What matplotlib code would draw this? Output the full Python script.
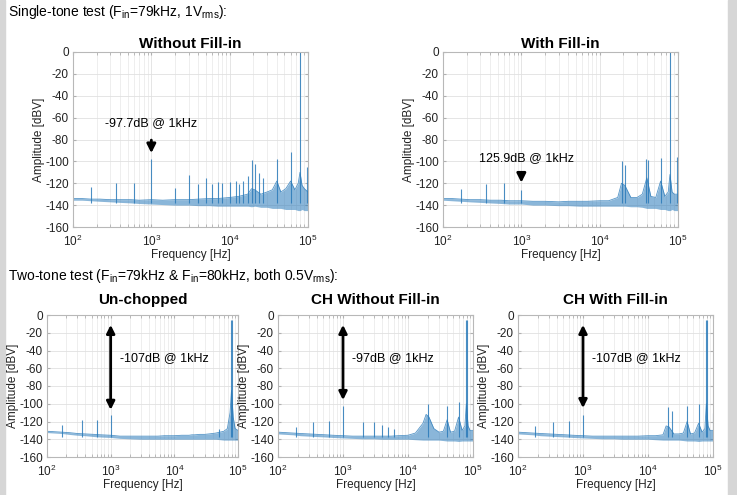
import matplotlib
matplotlib.use('Agg')
import matplotlib.pyplot as plt
from matplotlib.patches import Rectangle

plt.rcParams['font.family'] = ['Liberation Sans', 'DejaVu Sans']
plt.rcParams['mathtext.fontset'] = 'custom'
plt.rcParams['mathtext.rm'] = 'Liberation Sans'
plt.rcParams['mathtext.it'] = 'Liberation Sans:italic'
plt.rcParams['axes.unicode_minus'] = False

# noise floor envelope (Hz) and upper / lower edges (dBV) per panel
env_f = [100, 130, 170, 220, 300, 400, 550, 700, 1000, 1400, 2000, 3000, 4000, 5500,
         7000, 10000, 13000, 17000, 19000, 21000, 25000, 30000, 35000, 40000, 45000,
         52000, 60000, 68000, 75000, 79000, 84000, 90000, 100000]

tl_hi = [-134, -134, -134.5, -134.5, -135, -135, -135, -135.5, -135, -135.5, -135, -135,
         -134.5, -134, -134, -133, -132, -130, -125, -126, -130, -128, -126, -118, -128,
         -125, -118, -126, -120, -110, -122, -125, -128]
tl_lo = [-135.5, -135.5, -136, -136.5, -137, -137.5, -138, -138.5, -139, -139.5, -140,
         -140, -140.5, -140.5, -141, -141, -141, -141, -141.5, -141, -142, -142, -143, -143,
         -143, -144, -144, -144, -145, -145, -144, -145, -145]

tr_hi = [-134, -134, -134.5, -135, -135, -135.5, -135.5, -136, -136, -136.5, -136.5, -137,
         -136.5, -136.5, -136.5, -136, -136, -133, -120, -122, -133, -133, -130, -115, -132,
         -133, -118, -132, -128, -112, -128, -130, -130]
tr_lo = [-135.5, -136, -136.5, -137, -137.5, -138, -138.5, -139, -139, -140, -140, -140.5,
         -140.5, -141, -141, -141, -141, -141, -141, -141, -141.5, -141.5, -142, -143, -143,
         -143, -144, -144, -145, -145, -144, -145, -145]

bl_hi = [-131, -131.5, -132, -132.5, -133.5, -134, -134.5, -135, -135.5, -136.5, -136.5,
         -136.5, -136.5, -136.5, -136, -136, -135.5, -135.5, -135, -135, -134.5, -134.5, -134,
         -133.5, -133, -132, -131, -128, -110, -85, -115, -128, -130]
bl_lo = [-132.5, -133, -133.5, -134.5, -135.5, -136, -137, -137.5, -138, -139, -139.5,
         -140, -140, -140, -140, -140, -140, -140, -140, -140, -140, -140, -140, -140, -140,
         -140.5, -141, -141, -141, -141, -141, -141, -141]

bm_hi = [-132, -132.5, -133, -133.5, -134, -134.5, -135, -135.5, -136, -136.5, -136.5,
         -136.5, -136.5, -136.5, -136, -135.5, -133, -122, -112, -115, -128, -132, -131,
         -118, -132, -131, -115, -130, -125, -100, -125, -130, -130]
bm_lo = [-134, -134.5, -135, -136, -136.5, -137, -137.5, -138, -138.5, -139, -139.5,
         -139.5, -140, -140, -140, -140, -140.5, -141, -141, -141, -141, -141, -141.5, -142,
         -142, -142, -142.5, -142, -142, -142, -142, -142, -142]

br_hi = [-132, -132.5, -133, -133.5, -134, -134.5, -135, -135.5, -136, -136.5, -136.5,
         -136.5, -136.5, -136.5, -136.5, -136, -136, -135, -125, -126, -134, -134, -133,
         -120, -134, -133, -122, -132, -128, -100, -125, -130, -130]
br_lo = [-134, -134.5, -135, -136, -136.5, -137, -137.5, -138, -138.5, -139, -139.5,
         -139.5, -140, -140, -140, -140, -140.5, -141, -141, -141, -141, -141, -141.5, -142,
         -142, -142, -142.5, -142, -142, -142, -142, -142, -142]

# tones and spurs (Hz, dBV)
tl_spur_f = [170, 350, 600, 1000, 2000, 3000, 4000, 5000, 6000, 7000, 8000, 10000, 12000,
             13000, 15000, 17000, 19000, 21000, 24000, 27000, 40000, 60000, 79000, 98000]
tl_spur_db = [-123, -120, -120, -97.7, -124, -112, -121, -115, -121, -119, -120, -119, -118,
              -121, -118, -113, -99, -102, -111, -115, -97.5, -91, 0, -105]

tr_spur_f = [170, 350, 600, 1000, 19000, 21000, 39000, 42000, 60000, 79000, 98000]
tr_spur_db = [-125, -121, -120, -125.9, -100, -103, -98, -99, -97, 0, -96]

bl_spur_f = [170, 350, 600, 1000, 50000, 79000, 80000]
bl_spur_db = [-124, -118, -118, -113, -129, -6, -6]

bm_spur_f = [190, 350, 600, 1000, 2000, 3000, 4000, 5000, 6000, 20000, 40000, 60000,
             79000, 80000, 100000]
bm_spur_db = [-126, -120, -119, -103, -120, -120, -124, -126, -128, -100, -102, -98,
              -6, -6, -100]

br_spur_f = [185, 350, 600, 1000, 20000, 23000, 40000, 60000, 79000, 80000, 100000]
br_spur_db = [-125, -120, -119, -113, -104, -108, -103, -100, -6, -6, -110]

blue = '#2b7bba'

fig = plt.figure(figsize=(7.37, 4.95), dpi=100)
fig.patches.append(Rectangle((0, 0), 5 / 737, 1, transform=fig.transFigure,
                             color='#d6d6d6', zorder=-1))
fig.patches.append(Rectangle((728 / 737, 0), 9 / 737, 1, transform=fig.transFigure,
                             color='#d6d6d6', zorder=-1))


def panel(rect, hi, lo, sf, sdb, title, tpad):
    ax = fig.add_axes(rect)
    ax.set_xscale('log')
    ax.fill_between(env_f, lo, hi, color=blue, alpha=0.55, lw=0)
    ax.plot(env_f, hi, color=blue, lw=0.6, alpha=0.8)
    ax.vlines(sf, -138, sdb, color=blue, lw=0.8, alpha=0.85)
    ax.set_xlim(100, 1e5)
    ax.set_ylim(-160, 0)
    ax.set_yticks(range(-160, 1, 20))
    ax.set_xticks([1e2, 1e3, 1e4, 1e5])
    ax.grid(True, which='major', color='#e0e0e0', lw=0.6)
    ax.grid(True, which='minor', axis='x', color='#ebebeb', lw=0.6)
    ax.set_axisbelow(True)
    ax.tick_params(which='both', direction='in', top=True, right=True,
                   labelsize=8.5, colors='#b0b0b0', labelcolor='#222222', length=2)
    ax.tick_params(axis='x', which='both', pad=5)
    ax.tick_params(axis='y', which='both', pad=3)
    for s in ax.spines.values():
        s.set_color('#b8b8b8')
        s.set_linewidth(0.8)
    ax.set_xlabel('Frequency [Hz]', fontsize=8.5, labelpad=0, color='#222222')
    ax.set_ylabel('Amplitude [dBV]', fontsize=8.5, labelpad=0, color='#222222')
    ax.set_title(title, fontsize=11, fontweight='bold', pad=tpad)
    return ax


ax1 = panel([73 / 737, 1 - 227 / 495, 235 / 737, 175 / 495], tl_hi, tl_lo,
            tl_spur_f, tl_spur_db, 'Without Fill-in', 3)
ax1.text(1000, -65, '-97.7dB @ 1kHz', ha='center', va='center', fontsize=9)
ax1.annotate('', xy=(1000, -95), xytext=(1000, -78),
             arrowprops=dict(arrowstyle='-|>', color='k', lw=2, mutation_scale=13))

ax2 = panel([443 / 737, 1 - 227 / 495, 235 / 737, 175 / 495], tr_hi, tr_lo,
            tr_spur_f, tr_spur_db, 'With Fill-in', 3)
ax2.text(1150, -97, '125.9dB @ 1kHz', ha='center', va='center', fontsize=9)
ax2.annotate('', xy=(1000, -122), xytext=(1000, -109),
             arrowprops=dict(arrowstyle='-|>', color='k', lw=2, mutation_scale=13))

bottom = [
    (47, 191, bl_hi, bl_lo, bl_spur_f, bl_spur_db, 'Un-chopped', '-107dB @ 1kHz', -110),
    (278, 195, bm_hi, bm_lo, bm_spur_f, bm_spur_db, 'CH Without Fill-in', '-97dB @ 1kHz', -99),
    (518, 195, br_hi, br_lo, br_spur_f, br_spur_db, 'CH With Fill-in', '-107dB @ 1kHz', -108),
]
for left, width, hi, lo, sf, sdb, title, label, yb in bottom:
    ax = panel([left / 737, 1 - 457 / 495, width / 737, 142 / 495], hi, lo, sf, sdb, title, 8)
    ax.annotate('', xy=(1000, yb), xytext=(1000, -8),
                arrowprops=dict(arrowstyle='<|-|>', color='k', lw=2, mutation_scale=12))
    ax.text(1400, -49, label, ha='left', va='center', fontsize=9)

fig.text(8 / 737, 1 - 12 / 495, r'Single-tone test (F$_{\mathrm{in}}$=79kHz, 1V$_{\mathrm{rms}}$):',
         ha='left', va='center', fontsize=10)
fig.text(8 / 737, 1 - 276 / 495,
         r'Two-tone test (F$_{\mathrm{in}}$=79kHz & F$_{\mathrm{in}}$=80kHz, both 0.5V$_{\mathrm{rms}}$):',
         ha='left', va='center', fontsize=10)

fig.savefig('out.png', dpi=100)
